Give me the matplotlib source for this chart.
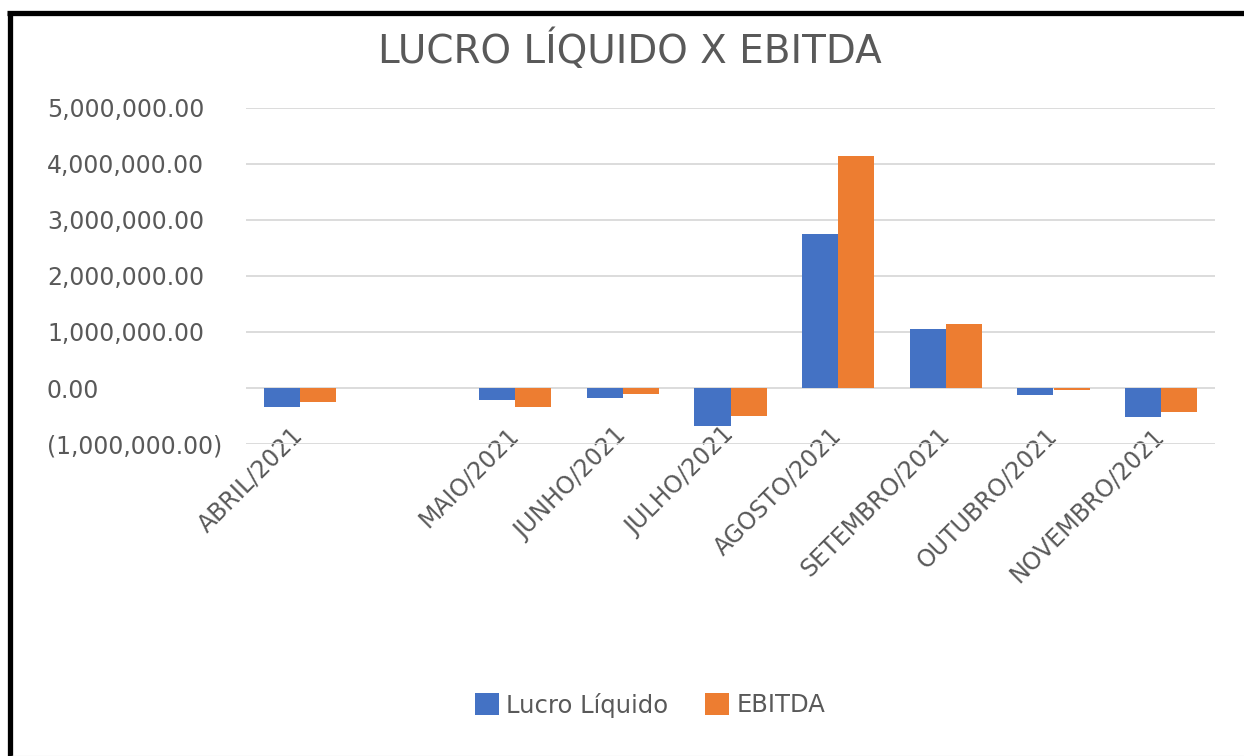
import numpy as np
import matplotlib
matplotlib.use("Agg")
import matplotlib.pyplot as plt
from matplotlib.patches import Patch
from matplotlib.lines import Line2D
from matplotlib.ticker import FuncFormatter, MultipleLocator
from matplotlib.transforms import ScaledTranslation

# Monthly values (R$), one empty slot between ABRIL and MAIO as in the source sheet
categories = ["ABRIL/2021", "", "MAIO/2021", "JUNHO/2021", "JULHO/2021",
              "AGOSTO/2021", "SETEMBRO/2021", "OUTUBRO/2021", "NOVEMBRO/2021"]
lucro_liquido = [-340000, np.nan, -210000, -170000, -680000,
                 2750000, 1050000, -130000, -520000]
ebitda = [-250000, np.nan, -340000, -100000, -500000,
          4150000, 1150000, -30000, -430000]

BLUE = "#4472C4"
ORANGE = "#ED7D31"
TEXT = "#595959"
GRID = "#D9D9D9"

W, H = 1244, 756
fig = plt.figure(figsize=(W / 100, H / 100), dpi=100)
ax = fig.add_axes([246 / W, 1 - 444 / H, (1215 - 246) / W, (444 - 108) / H])

x = np.arange(len(categories))
bw = 0.335
ax.bar(x - bw / 2, lucro_liquido, bw, color=BLUE, label="Lucro Líquido", zorder=3)
ax.bar(x + bw / 2, ebitda, bw, color=ORANGE, label="EBITDA", zorder=3)

ax.set_xlim(-0.5, len(categories) - 0.5)
ax.set_ylim(-1000000, 5000000)
ax.yaxis.set_major_locator(MultipleLocator(1000000))


def money(v, pos):
    if v < 0:
        return "({:,.2f})".format(-v)
    return "{:,.2f}".format(v)


ax.yaxis.set_major_formatter(FuncFormatter(money))
ax.grid(axis="y", color=GRID, linewidth=1.3, zorder=0)
for s in ax.spines.values():
    s.set_visible(False)

ax.tick_params(axis="y", length=0, pad=(246 - 47) * 0.72, labelsize=17, labelcolor=TEXT)
for lab in ax.get_yticklabels():
    lab.set_horizontalalignment("left")

ax.set_xticks(x)
ax.set_xticklabels(categories, rotation=45, ha="right", va="top",
                   fontsize=17, color=TEXT)
ax.tick_params(axis="x", length=0, pad=0)
shift = ScaledTranslation(8 / 100, 21 / 100, fig.dpi_scale_trans)
for lab in ax.get_xticklabels():
    lab.set_transform(lab.get_transform() + shift)

fig.text(630 / W, 1 - 50 / H, "LUCRO LÍQUIDO X EBITDA", ha="center", va="center",
         fontsize=28, color=TEXT)

handles = [Patch(facecolor=BLUE, label="Lucro Líquido"),
           Patch(facecolor=ORANGE, label="EBITDA")]
fig.legend(handles=handles, loc="center", bbox_to_anchor=(650 / W, 1 - 705 / H),
           ncol=2, frameon=False, fontsize=17.5, labelcolor=TEXT,
           handlelength=1.0, handleheight=1.0, handletextpad=0.3, columnspacing=1.5)

# black frame on top and left, as in the screenshot
fig.add_artist(Line2D([7.5 / W, 1], [1 - 12.5 / H, 1 - 12.5 / H], color="black",
                      linewidth=3.8, solid_capstyle="butt", transform=fig.transFigure))
fig.add_artist(Line2D([9.5 / W, 9.5 / W], [0, 1 - 12.5 / H], color="black",
                      linewidth=3.8, solid_capstyle="butt", transform=fig.transFigure))
fig.add_artist(Line2D([12 / W, 1], [0.5 / H, 0.5 / H], color="#EEEEEE",
                      linewidth=1, transform=fig.transFigure))

fig.savefig("out.png", dpi=100)
